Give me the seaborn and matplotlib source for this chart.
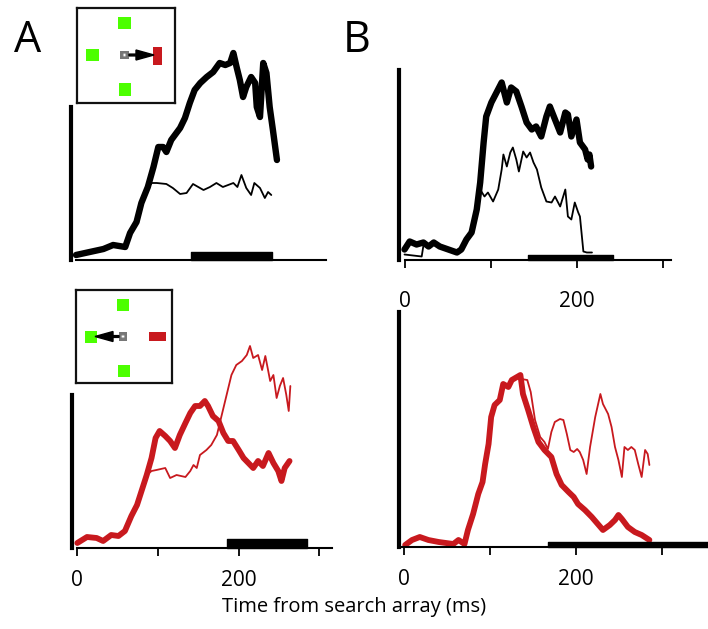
import numpy as np
import seaborn as sns
import matplotlib.pyplot as plt
from matplotlib.patches import Rectangle, Circle

# time (ms) and response height (arbitrary units)
tl_thick_t = [0, 17, 34, 46, 61, 67, 75, 81, 89, 96, 102, 108, 112, 118, 129, 135, 141, 147, 154, 162,
              170, 178, 185, 191, 195, 199, 203, 207, 211, 217, 222, 224, 228, 232, 236, 240, 244, 249]
tl_thick_v = [5, 8, 11, 15, 13, 27, 38, 57, 73, 93, 113, 113, 108, 120, 132, 142, 157, 170, 177, 183,
              188, 197, 195, 197, 207, 193, 180, 163, 173, 183, 177, 153, 143, 197, 187, 153, 130, 100]
tl_thin_t = [94, 100, 112, 120, 129, 137, 145, 158, 166, 174, 182, 195, 200, 205, 211, 217, 221, 228, 234, 238, 242]
tl_thin_v = [77, 77, 76, 72, 66, 67, 76, 70, 73, 77, 73, 77, 73, 85, 72, 65, 77, 72, 62, 68, 65]

tr_thick_t = [0, 6, 14, 22, 28, 34, 41, 51, 61, 66, 72, 78, 84, 88, 92, 95, 101, 107, 113, 119, 124, 130,
              136, 142, 148, 153, 159, 165, 169, 175, 181, 187, 190, 194, 200, 204, 210, 213, 215, 217]
tr_thick_v = [10, 18, 15, 17, 13, 17, 13, 10, 7, 10, 20, 27, 50, 77, 117, 143, 157, 167, 177, 157, 172, 168,
              153, 137, 130, 133, 123, 143, 153, 140, 127, 147, 145, 123, 140, 117, 110, 100, 105, 93]
tr_thin_t = [88, 93, 97, 103, 109, 113, 115, 119, 123, 126, 130, 133, 138, 142, 146, 150, 154, 159, 165,
             171, 175, 181, 187, 190, 194, 198, 202, 204, 208, 212, 218]
tr_thin_v = [70, 63, 67, 58, 70, 90, 105, 93, 107, 112, 100, 88, 108, 102, 107, 97, 90, 72, 58,
             57, 63, 53, 70, 43, 40, 57, 47, 43, 8, 7, 7]
tr_thin_start_t = [0, 20, 22]
tr_thin_start_v = [5, 3, 14]

bl_thick_t = [0, 12, 24, 32, 42, 51, 59, 67, 74, 80, 86, 92, 97, 102, 109, 115, 121, 127, 134, 140, 146,
              152, 158, 162, 168, 175, 181, 187, 193, 200, 206, 212, 218, 224, 230, 237, 243, 249, 253, 257, 263]
bl_thick_v = [5, 11, 10, 7, 13, 12, 17, 32, 43, 58, 73, 90, 110, 117, 112, 107, 100, 113, 125, 135, 142,
              142, 147, 142, 132, 127, 115, 107, 107, 98, 90, 85, 80, 87, 82, 95, 85, 77, 67, 80, 87]
bl_thin_t = [92, 98, 109, 115, 123, 134, 140, 144, 148, 152, 160, 166, 173, 179, 185, 191, 197, 204, 210,
             214, 218, 224, 229, 233, 239, 243, 247, 251, 255, 259, 262, 264]
bl_thin_v = [77, 78, 80, 70, 73, 71, 77, 83, 80, 93, 98, 103, 113, 133, 153, 173, 183, 187, 193,
             202, 190, 193, 178, 192, 167, 173, 150, 162, 170, 153, 137, 162]

br_thick_t = [1, 9, 18, 28, 40, 57, 63, 70, 74, 80, 86, 91, 94, 98, 101, 105, 111, 115, 121, 125, 131, 135,
              138, 144, 150, 156, 163, 171, 177, 183, 191, 197, 202, 210, 218, 226, 231, 239, 245, 249, 253,
              260, 268, 276, 285]
br_thick_v = [2, 7, 10, 7, 5, 3, 7, 3, 17, 33, 53, 65, 83, 103, 130, 142, 147, 163, 160, 167, 170, 172,
              153, 137, 120, 105, 97, 90, 73, 62, 55, 50, 43, 37, 30, 22, 17, 22, 27, 32, 28,
              20, 15, 12, 7]
br_thin_t = [136, 143, 147, 152, 158, 163, 167, 171, 175, 181, 185, 189, 193, 197, 201, 204, 208, 212, 216,
             222, 228, 231, 237, 241, 245, 249, 253, 256, 260, 264, 268, 272, 276, 280, 283, 285]
br_thin_v = [168, 167, 155, 127, 110, 105, 98, 115, 125, 128, 127, 113, 97, 95, 98, 95, 87, 73, 100,
             130, 153, 143, 133, 120, 100, 87, 70, 100, 97, 100, 97, 83, 70, 97, 93, 82]

# significance intervals (ms)
tl_sig = (142, 243)
tr_sig = (144, 243)
bl_sig = (186, 285)
br_sig = (167, 353)

RED = "#c8191e"
GREEN = "#4cff00"

sns.set_theme(style="white")
plt.rcParams["font.family"] = ["Open Sans", "DejaVu Sans"]
plt.rcParams["text.color"] = "black"
plt.rcParams["xtick.color"] = "black"
plt.rcParams["xtick.labelcolor"] = "black"

W, H = 708, 629
fig = plt.figure(figsize=(W / 100, H / 100), dpi=100)


def panel(left, right, top, bottom, x0, s, axis_y):
    ax = fig.add_axes([left / W, 1 - bottom / H, (right - left) / W, (bottom - top) / H])
    ax.set_xlim((left - x0) / s, (right - x0) / s)
    ax.set_ylim(axis_y - bottom, axis_y - top)
    ax.patch.set_alpha(0)
    for sp in ["top", "right"]:
        ax.spines[sp].set_visible(False)
    ax.spines["bottom"].set_position(("data", 0))
    ax.spines["bottom"].set_linewidth(1.5)
    ax.spines["left"].set_linewidth(3)
    ax.spines["left"].set_color("black")
    ax.spines["bottom"].set_color("black")
    ax.set_yticks([])
    ax.set_xticks([0, 100, 200, 300])
    ax.set_xticklabels(["0", "", "200", ""])
    ax.tick_params(axis="x", direction="out", length=6, width=1.3, color="black",
                   labelcolor="black", labelsize=15, bottom=True)
    return ax


def trace(ax, t, v, color, lw):
    sns.lineplot(x=t, y=v, ax=ax, color=color, lw=lw, estimator=None, sort=False,
                 solid_capstyle="round", solid_joinstyle="round", clip_on=False)


def sig(ax, span, thick):
    ax.broken_barh([(span[0], span[1] - span[0])], (0, thick), color="black", clip_on=False, zorder=5)


# A top
ax = panel(71, 330, 40, 300, 76, 0.807, 260)
ax.spines["left"].set_bounds(0, 153)
ax.spines["bottom"].set_bounds(0, 310)
ax.tick_params(axis="x", bottom=False, labelbottom=False)
trace(ax, tl_thick_t, tl_thick_v, "black", 4.6)
trace(ax, [t for t in tl_thick_t if t <= 89] + tl_thin_t,
      [v for t, v in zip(tl_thick_t, tl_thick_v) if t <= 89] + tl_thin_v, "black", 1.3)
sig(ax, tl_sig, 8)

# B top
ax = panel(399, 700, 60, 300, 404.5, 0.86, 259.5)
ax.spines["left"].set_bounds(0, 190)
ax.spines["bottom"].set_bounds(0, 310)
ax.tick_params(axis="x", pad=17)
trace(ax, tr_thick_t, tr_thick_v, "black", 4.6)
trace(ax, tr_thin_start_t + [t for t in tr_thick_t if 28 <= t <= 84] + tr_thin_t,
      tr_thin_start_v + [v for t, v in zip(tr_thick_t, tr_thick_v) if 28 <= t <= 84] + tr_thin_v,
      "black", 1.3)
sig(ax, tr_sig, 5)

# A bottom
ax = panel(72, 340, 330, 600, 77.3, 0.807, 548)
ax.spines["left"].set_bounds(0, 153)
ax.spines["bottom"].set_bounds(0, 316)
ax.tick_params(axis="x", pad=10)
trace(ax, bl_thick_t, bl_thick_v, RED, 4.2)
trace(ax, [t for t in bl_thick_t if t <= 86] + bl_thin_t,
      [v for t, v in zip(bl_thick_t, bl_thick_v) if t <= 86] + bl_thin_v, RED, 1.3)
sig(ax, bl_sig, 9)

# B bottom
ax = panel(399, 708, 305, 600, 404.3, 0.86, 547)
ax.spines["left"].set_bounds(0, 235)
ax.tick_params(axis="x", pad=10)
trace(ax, br_thick_t, br_thick_v, RED, 4.2)
trace(ax, [t for t in br_thick_t if t <= 131] + br_thin_t,
      [v for t, v in zip(br_thick_t, br_thick_v) if t <= 131] + br_thin_v, RED, 1.3)
sig(ax, br_sig, 5)


def inset(left, right, top, bottom):
    a = fig.add_axes([left / W, 1 - bottom / H, (right - left) / W, (bottom - top) / H])
    a.set_xlim(left, right)
    a.set_ylim(bottom, top)
    a.set_xticks([])
    a.set_yticks([])
    for sp in a.spines.values():
        sp.set_linewidth(1.6)
        sp.set_color("#111111")
        sp.set_visible(True)
    a.set_facecolor("white")
    return a


def sq(a, x1, y1, x2, y2, c):
    a.add_patch(Rectangle((x1, y1), x2 - x1, y2 - y1, color=c, lw=0))


def fix(a, x1, y1, x2, y2):
    sq(a, x1, y1, x2, y2, "#777777")
    a.add_patch(Circle(((x1 + x2) / 2, (y1 + y2) / 2), 1.4, fc="white", ec="#aaaaaa", lw=0.5))


a = inset(77, 175, 8, 103)
sq(a, 118, 17, 131, 29, GREEN)
sq(a, 86, 49, 99, 61, GREEN)
sq(a, 119, 83, 131, 96, GREEN)
sq(a, 153, 47, 162, 65, RED)
a.arrow(129, 55, 25, 0, width=1.8, head_width=10, head_length=18, length_includes_head=True,
        color="black", zorder=4)
fix(a, 120, 51, 129, 59)

a = inset(76, 172, 290, 383)
sq(a, 117, 299, 129, 311, GREEN)
sq(a, 85, 331, 97, 343, GREEN)
sq(a, 118, 365, 130, 377, GREEN)
sq(a, 149, 332, 166, 341, RED)
a.arrow(119, 336.5, -24, 0, width=1.8, head_width=10, head_length=18, length_includes_head=True,
        color="black", zorder=4)
fix(a, 119, 332, 127, 341)

fig.text(14 / W, 1 - 52 / H, "A", fontsize=31, color="black", ha="left", va="baseline")
fig.text(343 / W, 1 - 52 / H, "B", fontsize=31, color="black", ha="left", va="baseline")
fig.text(354 / W, 1 - 607 / H, "Time from search array (ms)", fontsize=14.5, color="black",
         ha="center", va="center")

fig.savefig("out.png", dpi=100)
